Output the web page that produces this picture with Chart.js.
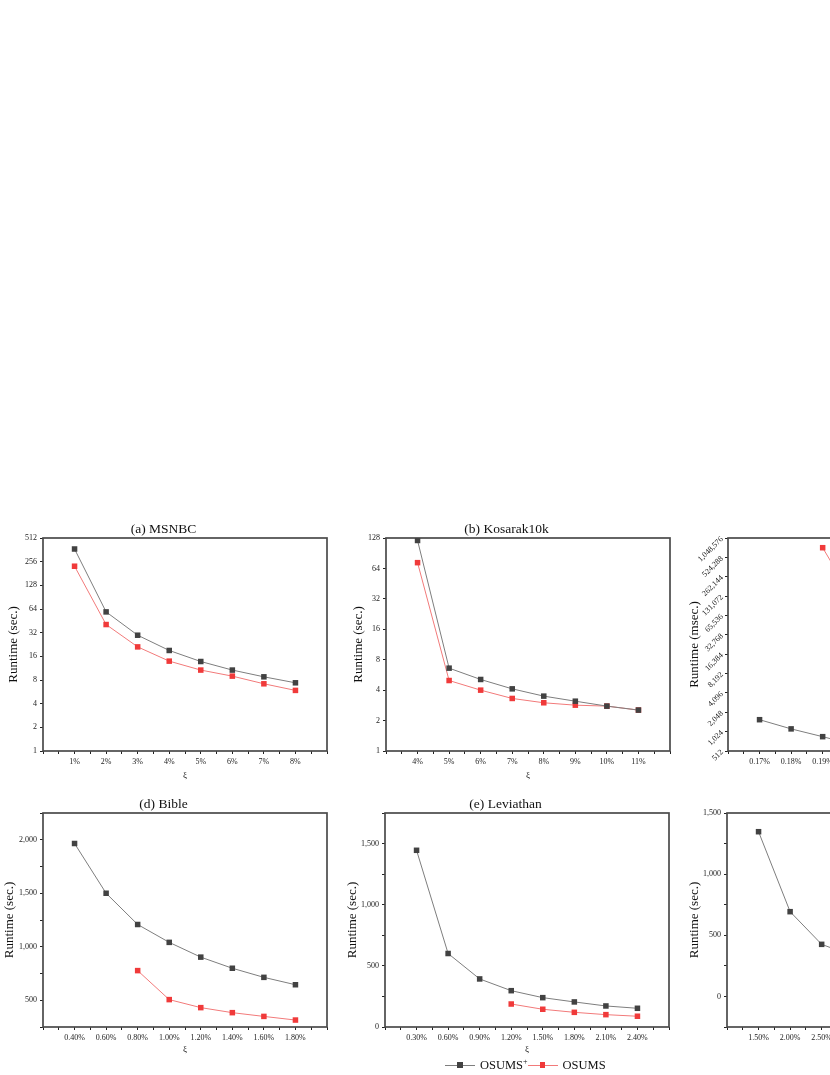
<!DOCTYPE html>
<html>
<head>
<meta charset="utf-8">
<script src="https://cdn.jsdelivr.net/npm/chart.js@4/dist/chart.umd.min.js"></script>
<style>
  body { margin:0; width:830px; height:1075px; overflow:hidden; background:#fff; position:relative; font-family:"Liberation Serif", serif; }
  canvas.p { position:absolute; }
  #legend { position:absolute; left:445px; top:1056px; height:18px; display:flex; align-items:center; font-size:12.5px; color:#111; white-space:nowrap; }
  .ln { position:relative; width:30px; height:1px; }
  .ln i { position:absolute; left:12px; top:-2.5px; width:5.5px; height:5.5px; }
  .lt { margin-left:5px; margin-right:0; }
  sup { font-size:8px; }
</style>
</head>
<body>
<canvas class="p" id="ca"></canvas>
<canvas class="p" id="cb"></canvas>
<canvas class="p" id="cc"></canvas>
<canvas class="p" id="cd"></canvas>
<canvas class="p" id="ce"></canvas>
<canvas class="p" id="cf"></canvas>
<div id="legend"></div>
<script>
// ---------- data ----------
const seriesNames = ['OSUMS', 'OSUMS'];
const seriesSup = ['+', ''];

const titles = ['(a) MSNBC', '(b) Kosarak10k', '(c)', '(d) Bible', '(e) Leviathan', '(f)'];

const msnbcXi   = ['1%','2%','3%','4%','5%','6%','7%','8%'];
const msnbcPlus = [371, 58.8, 29.7, 19.0, 13.75, 10.7, 8.78, 7.37];
const msnbcBase = [224, 40.6, 21.1, 13.9, 10.7, 8.96, 7.16, 5.9];

const kosXi   = ['4%','5%','6%','7%','8%','9%','10%','11%'];
const kosPlus = [121, 6.6, 5.1, 4.12, 3.49, 3.11, 2.78, 2.54];
const kosBase = [73, 4.98, 4.0, 3.31, 3.0, 2.84, 2.78, 2.54];

const cXi   = ['0.17%','0.18%','0.19%','0.20%','0.21%','0.22%','0.23%','0.24%'];
const cPlus = [1570, 1130, 855, 640, 590, 560, 540, 520];
const cBase = [null, null, 741000, 110000, 40000, 20000, 12000, 8000];

const bibleXi   = ['0.40%','0.60%','0.80%','1.00%','1.20%','1.40%','1.60%','1.80%'];
const biblePlus = [1965, 1500, 1208, 1041, 903, 799, 714, 645];
const bibleBase = [null, null, 777, 506, 431, 384, 349, 315];

const levXi   = ['0.30%','0.60%','0.90%','1.20%','1.50%','1.80%','2.10%','2.40%'];
const levPlus = [1445, 601, 393, 297, 240, 205, 172, 153];
const levBase = [null, null, null, 188, 145, 120, 101, 88];

const fXi   = ['1.50%','2.00%','2.50%','3.00%','3.50%','4.00%','4.50%','5.00%'];
const fPlus = [1347, 693, 426, 330, 270, 230, 200, 180];
const fBase = [null, null, null, null, null, null, null, null];

const log2TicksA = [1,2,4,8,16,32,64,128,256,512];
const log2TicksB = [1,2,4,8,16,32,64,128];
const log2TicksC = [512,1024,2048,4096,8192,16384,32768,65536,131072,262144,524288,1048576];

// ---------- styling ----------
const plusLine = '#7e7e7e', plusPt = '#424242';
const baseLine = '#f27a7a', basePt = '#f03a3a';

Chart.defaults.font.family = '"Liberation Serif", serif';
Chart.defaults.color = '#222';

const boxPlugin = {
  id: 'box',
  beforeDatasetsDraw(chart) {
    const {ctx, chartArea: a} = chart;
    ctx.save();
    ctx.strokeStyle = '#4a4a4a';
    ctx.lineWidth = 1.7;
    ctx.strokeRect(a.left, a.top, a.right - a.left, a.bottom - a.top);
    ctx.restore();
  }
};

function pts(arr) { return arr.map((v, i) => ({x: i + 1, y: v})); }

function makePanel(id, left, top, plotH, title, xi, plus, base, yOpt, yTitle, yTitlePad, xTitlePad) {
  const W = 43 + 284 + 43, H = 18 + plotH + 30;
  const cv = document.getElementById(id);
  cv.width = W; cv.height = H;
  cv.style.left = left + 'px'; cv.style.top = top + 'px';
  const yScale = Object.assign({
    position: 'left',
    border: {display: false},
    grid: {drawOnChartArea: false, drawTicks: true, tickLength: 3, tickColor: '#222', lineWidth: 1},
    title: {display: true, text: yTitle, font: {size: 13}, color: '#111', padding: {top: yTitlePad, bottom: 0}},
    afterFit(s) { s.width = 43; }
  }, yOpt.scale);
  yScale.ticks = Object.assign({font: {size: 8}, color: '#222', padding: 3, autoSkip: false}, yOpt.ticks);
  new Chart(cv, {
    type: 'line',
    data: {
      datasets: [
        {label: seriesNames[0] + seriesSup[0], data: pts(plus), borderColor: plusLine, borderWidth: 1,
         pointStyle: 'rect', pointRadius: 3.9, pointBackgroundColor: plusPt, pointBorderColor: plusPt, pointBorderWidth: 0},
        {label: seriesNames[1] + seriesSup[1], data: pts(base), borderColor: baseLine, borderWidth: 1,
         pointStyle: 'rect', pointRadius: 3.9, pointBackgroundColor: basePt, pointBorderColor: basePt, pointBorderWidth: 0}
      ]
    },
    options: {
      responsive: false, animation: false, devicePixelRatio: 1,
      layout: {padding: {top: 1.8, right: 43, left: 0, bottom: 0}},
      plugins: {
        legend: {display: false}, tooltip: {enabled: false},
        title: {display: true, text: title, font: {size: 13.5, weight: 'normal'}, color: '#111', padding: {top: 0, bottom: 0}}
      },
      scales: {
        x: {
          type: 'linear', min: 0, max: 9, position: 'bottom',
          border: {display: false},
          grid: {drawOnChartArea: false, drawTicks: true, tickLength: 3, tickColor: '#222', lineWidth: 1},
          ticks: {stepSize: 0.5, autoSkip: false, maxRotation: 0, font: {size: 8}, color: '#222', padding: 3.5,
            callback: (v) => (Number.isInteger(v) && v >= 1 && v <= xi.length) ? xi[v - 1] : ''},
          title: {display: true, text: 'ξ', font: {size: 9}, color: '#222', padding: {top: 0, bottom: xTitlePad}},
          afterFit(s) { s.height = 30; }
        },
        y: yScale
      }
    },
    plugins: [boxPlugin]
  });
}

function logY(min, max, ticksArr, rot) {
  return {
    scale: {type: 'logarithmic', min: min, max: max,
      afterBuildTicks(s) { s.ticks = ticksArr.map(v => ({value: v})); }},
    ticks: Object.assign({callback: (v) => Number(v).toLocaleString('en-US')},
      rot ? {minRotation: 45, maxRotation: 45} : {})
  };
}
function linY(min, max) {
  return {
    scale: {type: 'linear', min: min, max: max},
    ticks: {stepSize: 250, callback: (v) => (v % 500 === 0) ? Number(v).toLocaleString('en-US') : ''}
  };
}

makePanel('ca', 0,   520, 213, titles[0], msnbcXi, msnbcPlus, msnbcBase, logY(1, 512, log2TicksA), 'Runtime (sec.)', 5.9, 0);
makePanel('cb', 343, 520, 213, titles[1], kosXi, kosPlus, kosBase, logY(1, 128, log2TicksB), 'Runtime (sec.)', 8.2, 0);
makePanel('cc', 685, 520, 213, titles[2], cXi, cPlus, cBase, logY(512, 1048576, log2TicksC, true), 'Runtime (msec.)', 1.5, 0);
makePanel('cd', 0,   795, 214, titles[3], bibleXi, biblePlus, bibleBase, linY(250, 2250), 'Runtime (sec.)', 2.2, 1.6);
makePanel('ce', 342, 795, 214, titles[4], levXi, levPlus, levBase, linY(0, 1750), 'Runtime (sec.)', 3.2, 1.6);
makePanel('cf', 684, 795, 214, titles[5], fXi, fPlus, fBase, linY(-250, 1500), 'Runtime (sec.)', 3.2, 1.6);

// ---------- legend ----------
const lg = document.getElementById('legend');
[[plusLine, plusPt], [baseLine, basePt]].forEach((c, i) => {
  const ln = document.createElement('span'); ln.className = 'ln'; ln.style.background = c[0];
  const sq = document.createElement('i'); sq.style.background = c[1]; ln.appendChild(sq);
  const t = document.createElement('span'); t.className = 'lt';
  t.textContent = seriesNames[i];
  if (seriesSup[i]) { const s = document.createElement('sup'); s.textContent = seriesSup[i]; t.appendChild(s); }
  lg.appendChild(ln); lg.appendChild(t);
});
</script>
</body>
</html>
